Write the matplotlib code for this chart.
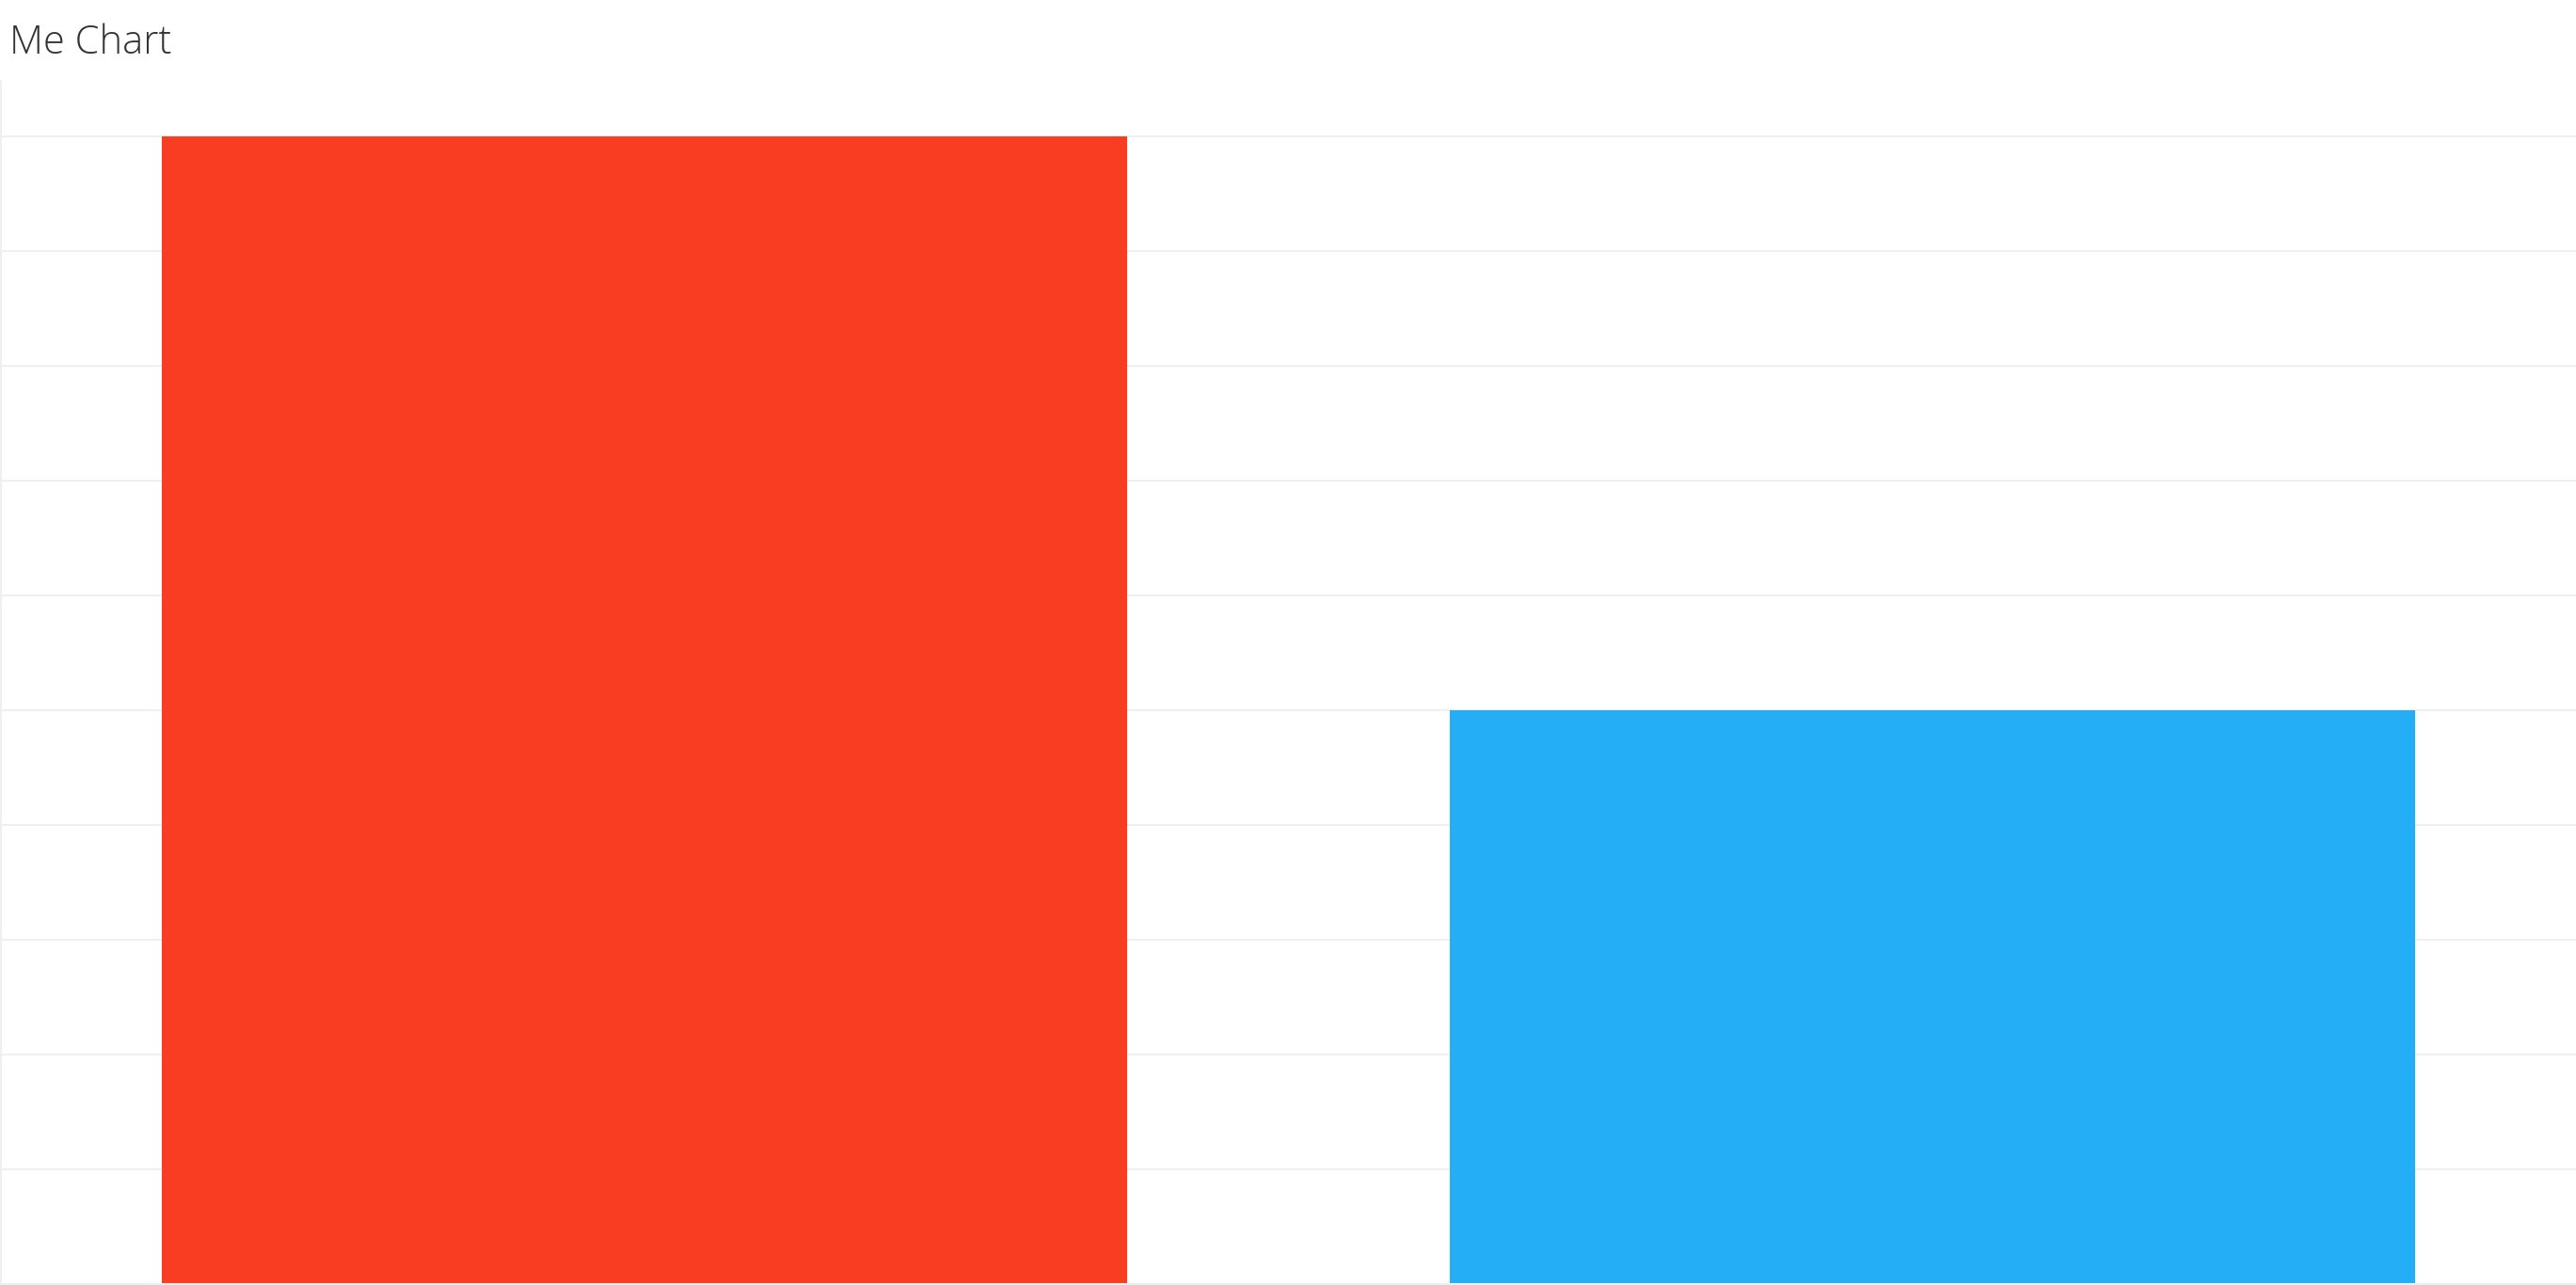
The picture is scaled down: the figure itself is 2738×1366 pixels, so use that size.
import matplotlib
matplotlib.use("Agg")
import matplotlib.pyplot as plt

categories = ["A", "B"]
values = [10, 5]
colors = ["#F83D22", "#24AEF6"]
title = "Me Chart"

W, H = 2738, 1366
fig = plt.figure(figsize=(W / 100, H / 100), dpi=100)
fig.patch.set_facecolor("white")

# plot area: full width, from y=86 px down to the bottom edge
top_px, bot_px = 86, 1365
ax = fig.add_axes([0.0004, 1 - bot_px / H, 0.9996, (bot_px - top_px) / H])

ax.bar(range(len(categories)), values, width=0.75, color=colors, zorder=2)
ax.set_xlim(-0.5, len(categories) - 0.5)
ax.set_ylim(0, 10.48)

ax.set_yticks(range(0, 11))
ax.yaxis.grid(True, color="#efefef", linewidth=1.5, zorder=0)
ax.set_axisbelow(True)
ax.tick_params(left=False, bottom=False, labelleft=False, labelbottom=False)
for s in ("top", "right"):
    ax.spines[s].set_visible(False)
for s in ("left", "bottom"):
    ax.spines[s].set_color("#efefef")
    ax.spines[s].set_linewidth(1.5)

fig.text(10 / W, 1 - 57 / H, title, fontsize=30, family=["Open Sans", "DejaVu Sans"],
         fontweight="light", color="#333333", ha="left", va="baseline")

fig.savefig("out.png", dpi=100, facecolor="white")
